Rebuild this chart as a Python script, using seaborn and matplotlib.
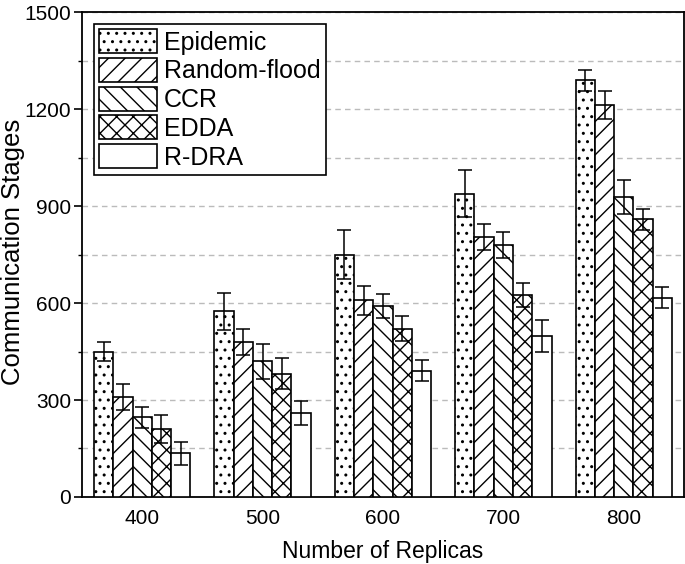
import numpy as np
import pandas as pd
import matplotlib
matplotlib.use('Agg')
import matplotlib.pyplot as plt
from matplotlib.patches import Patch
from matplotlib.ticker import MultipleLocator
import seaborn as sns

# data
replicas = ['400', '500', '600', '700', '800']
methods = ['Epidemic', 'Random-flood', 'CCR', 'EDDA', 'R-DRA']
hatches = ['..', '//', '\\\\', 'xx', '']

epidemic = [450, 575, 750, 938, 1289]
epidemic_err = [30, 57, 76, 72, 33]
random_flood = [309, 480, 609, 803, 1212]
random_flood_err = [40, 40, 45, 40, 44]
ccr = [246, 420, 590, 779, 927]
ccr_err = [33, 54, 37, 40, 53]
edda = [210, 381, 520, 625, 859]
edda_err = [44, 48, 39, 37, 32]
rdra = [135, 259, 391, 497, 617]
rdra_err = [35, 37, 33, 50, 34]

values = [epidemic, random_flood, ccr, edda, rdra]
errors = [epidemic_err, random_flood_err, ccr_err, edda_err, rdra_err]

rows = []
for m, vals in zip(methods, values):
    for r, v in zip(replicas, vals):
        rows.append({'replicas': r, 'method': m, 'stages': v})
df = pd.DataFrame(rows)

sns.set_style('ticks')
plt.rcParams['font.family'] = ['Liberation Sans', 'DejaVu Sans']
plt.rcParams['hatch.linewidth'] = 1.0
plt.rcParams['text.color'] = 'black'
plt.rcParams['axes.labelcolor'] = 'black'
plt.rcParams['xtick.color'] = 'black'
plt.rcParams['ytick.color'] = 'black'

fig = plt.figure(figsize=(6.85, 5.64), dpi=100)
ax = fig.add_axes([0.1197, 0.1188, 0.8788, 0.8599])

sns.barplot(data=df, x='replicas', y='stages', hue='method', hue_order=methods,
            palette=['white'] * 5, edgecolor='black', linewidth=1.2,
            errorbar=None, width=0.8, legend=False, ax=ax, zorder=3)

for container, hatch, errs in zip(ax.containers, hatches, errors):
    for bar, e in zip(container, errs):
        bar.set_hatch(hatch)
        ax.errorbar(bar.get_x() + bar.get_width() / 2, bar.get_height(), yerr=e,
                    fmt='none', ecolor='black', elinewidth=1.1, capsize=5,
                    capthick=1.1, zorder=4)

ax.set_xlim(-0.5, 4.5)
ax.set_ylim(0, 1500)
ax.yaxis.set_major_locator(MultipleLocator(300))
ax.yaxis.set_minor_locator(MultipleLocator(150))
ax.yaxis.grid(True, which='both', linestyle=(0, (4, 3)), color='#bbbbbb', linewidth=1.0, zorder=0)
ax.set_axisbelow(True)

ax.tick_params(axis='y', which='major', direction='out', length=6, width=1.2, labelsize=15, pad=2)
ax.tick_params(axis='y', which='minor', direction='out', length=3, width=1.0)
ax.tick_params(axis='x', length=0, labelsize=15, pad=9)

for s in ax.spines.values():
    s.set_linewidth(1.3)
    s.set_color('black')

ax.set_xlabel('Number of Replicas', fontsize=16.5, labelpad=8)
ax.set_ylabel('Communication Stages', fontsize=18.5)
ax.yaxis.set_label_coords(-0.094, 0.505)

handles = [Patch(facecolor='white', edgecolor='black', hatch=h, linewidth=1.2) for h in hatches]
leg = ax.legend(handles, methods, loc='upper left', bbox_to_anchor=(0.02, 0.975),
                borderaxespad=0, fancybox=False, edgecolor='black', framealpha=1,
                fontsize=18, handlelength=2.3, handleheight=1.1, labelspacing=0.13,
                handletextpad=0.3, borderpad=0.2)
leg.get_frame().set_linewidth(1.2)

fig.savefig('out.png', dpi=100)
